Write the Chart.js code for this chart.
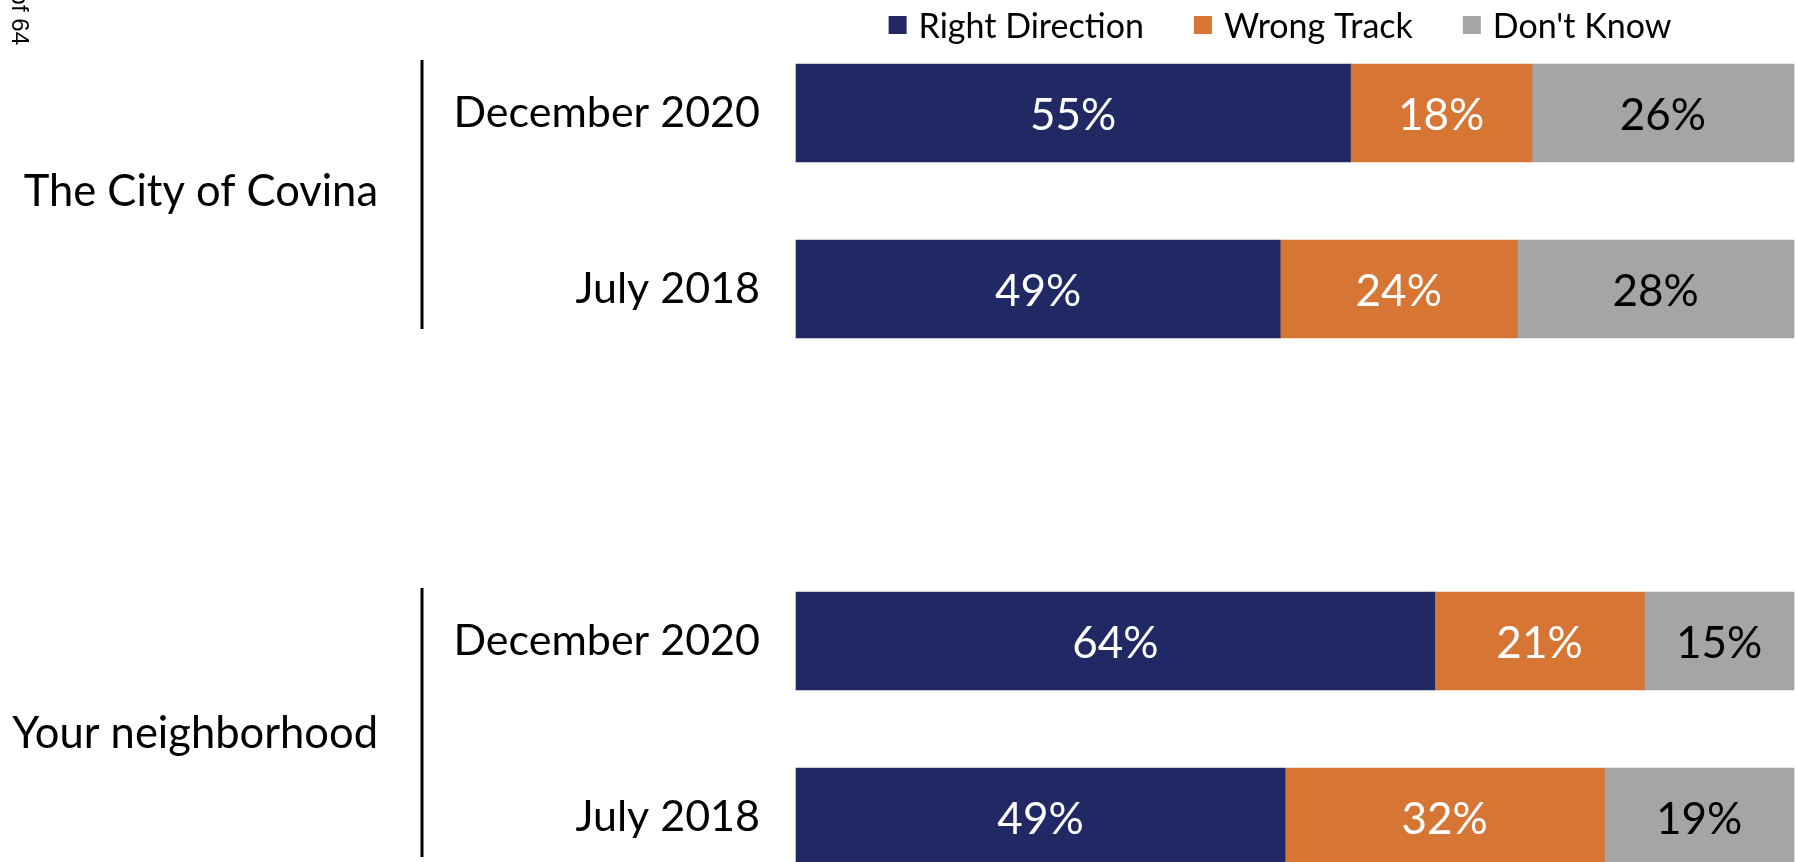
<!DOCTYPE html>
<html>
<head>
<meta charset="utf-8">
<script src="https://cdn.jsdelivr.net/npm/chart.js@4"></script>
<style>
html, body { margin: 0; padding: 0; background: #fff; overflow: hidden; }
#wrap { width: 1796px; height: 862px; position: relative; overflow: hidden; }
</style>
</head>
<body>
<div id="wrap"><canvas id="chart" width="1796" height="900"></canvas></div>
<script>
// rows of the chart, top to bottom (the blank one is the gap between the two groups)
const periods = ['December 2020', 'July 2018', '', 'December 2020', 'July 2018'];
const groups = ['The City of Covina', 'Your neighborhood'];
const groupRows = [[0, 1], [3, 4]];

const rightDirection = [55, 49, null, 64, 49];
const wrongTrack = [18, 24, null, 21, 32];
const dontKnow = [26, 28, null, 15, 19];

const seriesNames = ['Right Direction', 'Wrong Track', "Don't Know"];
const seriesColors = ['#202963', '#D77634', '#A5A5A5'];
const labelColors = ['#ffffff', '#ffffff', '#000000'];

const FONT = 'Lato, "Open Sans", sans-serif';
Chart.defaults.font.family = FONT;
Chart.defaults.color = '#000';

const series = [rightDirection, wrongTrack, dontKnow];
// 100% stacked: each row is scaled to its own total
const totals = periods.map((p, i) => series.reduce((s, arr) => s + (arr[i] || 0), 0));
const share = arr => arr.map((v, i) => v == null ? null : v / totals[i] * 100);

const decor = {
    id: 'decor',
    afterDatasetsDraw(chart) {
        const ctx = chart.ctx;
        ctx.save();
        ctx.font = '44px ' + FONT;
        ctx.textAlign = 'center';
        ctx.textBaseline = 'middle';
        chart.data.datasets.forEach((ds, k) => {
            chart.getDatasetMeta(k).data.forEach((bar, i) => {
                const v = ds.raw[i];
                if (v == null) return;
                ctx.fillStyle = labelColors[k];
                ctx.fillText(v + '%', (bar.x + bar.base) / 2, bar.y + 3);
            });
        });
        ctx.restore();
    },
    afterDraw(chart) {
        const ctx = chart.ctx;
        const y = chart.scales.y;
        ctx.save();

        // legend
        ctx.font = '34px ' + FONT;
        ctx.textBaseline = 'middle';
        ctx.textAlign = 'left';
        const box = 18, gap = 12, spacing = 50;
        const widths = seriesNames.map(n => ctx.measureText(n).width);
        const total = widths.reduce((s, w) => s + box + gap + w, 0) + spacing * (seriesNames.length - 1);
        let lx = 1280 - total / 2;
        seriesNames.forEach((n, k) => {
            ctx.fillStyle = seriesColors[k];
            ctx.fillRect(lx, 16, box, box);
            ctx.fillStyle = '#000';
            ctx.fillText(n, lx + box + gap, 27);
            lx += box + gap + widths[k] + spacing;
        });

        // group labels and brackets
        const baseShift = [5, 19];
        groups.forEach((g, j) => {
            const [a, b] = groupRows[j];
            const ya = y.getPixelForValue(a), yb = y.getPixelForValue(b);
            ctx.strokeStyle = '#000';
            ctx.lineWidth = 3;
            ctx.beginPath();
            ctx.moveTo(422, ya - 53);
            ctx.lineTo(422, yb + 40);
            ctx.stroke();
            ctx.font = '43.5px ' + FONT;
            ctx.textAlign = 'right';
            ctx.textBaseline = 'alphabetic';
            ctx.fillStyle = '#000';
            ctx.fillText(g, 378, (ya + yb) / 2 + baseShift[j]);
        });

        // page number fragment at the left edge
        ctx.translate(12, 45);
        ctx.rotate(Math.PI / 2);
        ctx.font = '24px "Liberation Sans", Arial, sans-serif';
        ctx.textAlign = 'right';
        ctx.textBaseline = 'alphabetic';
        ctx.fillText('of 64', 0, 0);
        ctx.restore();
    }
};

const ctx = document.getElementById('chart').getContext('2d');
const chart = new Chart(ctx, {
    type: 'bar',
    data: {
        labels: periods,
        datasets: series.map((arr, k) => ({
            label: seriesNames[k],
            data: share(arr),
            raw: arr,
            backgroundColor: seriesColors[k],
            borderWidth: 0,
            barThickness: 98,
            clip: false
        }))
    },
    options: {
        indexAxis: 'y',
        responsive: false,
        animation: false,
        layout: { padding: { top: 113, bottom: 83, left: 0, right: 2 } },
        plugins: {
            legend: { display: false },
            tooltip: { enabled: false }
        },
        scales: {
            x: { stacked: true, min: 0, max: 100, display: false },
            y: {
                stacked: true,
                offset: false,
                grid: { display: false, drawTicks: false },
                border: { display: false },
                ticks: { padding: 36, color: '#000', font: { size: 43 } },
                afterFit(scale) { scale.width = 796; }
            }
        }
    },
    plugins: [decor]
});
</script>
</body>
</html>
